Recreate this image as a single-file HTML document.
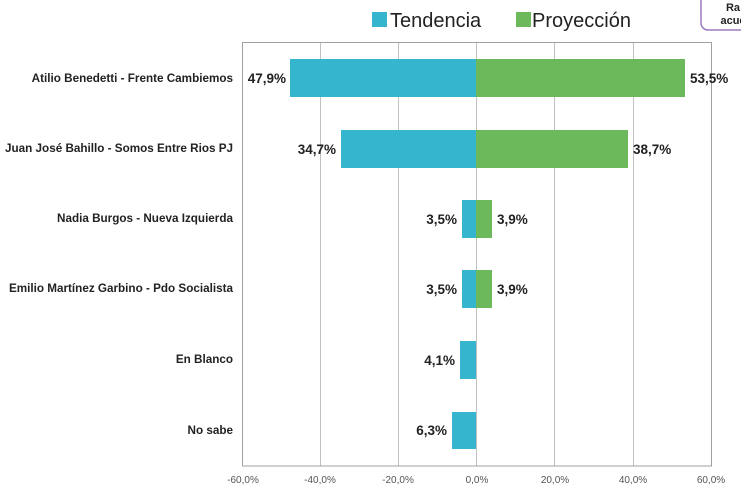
<!DOCTYPE html>
<html><head><meta charset="utf-8"><style>
body{margin:0;background:#fff;width:741px;height:494px;overflow:hidden;font-family:"Liberation Sans",sans-serif}
</style></head><body>
<svg width="741" height="494" xmlns="http://www.w3.org/2000/svg" font-family="Liberation Sans, sans-serif">
<rect x="701" y="-10" width="60" height="40" rx="7" fill="#fff" stroke="#9b7bc0" stroke-width="1.5"/>
<text x="733" y="11" font-size="11" font-weight="bold" fill="#222" text-anchor="middle">Ra</text>
<text x="733" y="24" font-size="11" font-weight="bold" fill="#222" text-anchor="middle">acue</text>
<rect x="372" y="12" width="15" height="15" fill="#35b5ce"/>
<text x="390" y="27" font-size="20" fill="#222">Tendencia</text>
<rect x="516" y="12" width="15" height="15" fill="#6cb95c"/>
<text x="532" y="27" font-size="20" fill="#222">Proyección</text>
<g stroke="#c0c0c0" stroke-width="1">
<line x1="320.5" y1="42" x2="320.5" y2="466"/>
<line x1="398.5" y1="42" x2="398.5" y2="466"/>
<line x1="476.5" y1="42" x2="476.5" y2="466"/>
<line x1="554.5" y1="42" x2="554.5" y2="466"/>
<line x1="633.5" y1="42" x2="633.5" y2="466"/>
</g>
<rect x="242.5" y="42.5" width="469" height="423.5" fill="none" stroke="#a0a0a0"/>
<g fill="#35b5ce">
<rect x="290" y="59" width="186" height="38"/>
<rect x="341" y="130" width="135" height="38"/>
<rect x="462" y="200" width="14" height="38"/>
<rect x="462" y="270" width="14" height="38"/>
<rect x="460" y="341" width="16" height="38"/>
<rect x="452" y="412" width="24" height="37"/>
</g>
<g fill="#6cb95c">
<rect x="476" y="59" width="209" height="38"/>
<rect x="476" y="130" width="152" height="38"/>
<rect x="476" y="200" width="16" height="38"/>
<rect x="476" y="270" width="16" height="38"/>
</g>
<g font-size="13.5" font-weight="bold" fill="#222">
<text x="286" y="83" text-anchor="end">47,9%</text>
<text x="690" y="83">53,5%</text>
<text x="336" y="154" text-anchor="end">34,7%</text>
<text x="633" y="154">38,7%</text>
<text x="457" y="224" text-anchor="end">3,5%</text>
<text x="497" y="224">3,9%</text>
<text x="457" y="294" text-anchor="end">3,5%</text>
<text x="497" y="294">3,9%</text>
<text x="455" y="365" text-anchor="end">4,1%</text>
<text x="447" y="435" text-anchor="end">6,3%</text>
</g>
<g font-size="11.7" font-weight="bold" fill="#222" text-anchor="end">
<text x="233" y="82">Atilio Benedetti - Frente Cambiemos</text>
<text x="233" y="152">Juan José Bahillo - Somos Entre Rios PJ</text>
<text x="233" y="222">Nadia Burgos - Nueva Izquierda</text>
<text x="233" y="292">Emilio Martínez Garbino - Pdo Socialista</text>
<text x="233" y="363">En Blanco</text>
<text x="233" y="434">No sabe</text>
</g>
<g font-size="10" fill="#555" text-anchor="middle">
<text x="243" y="483">-60,0%</text>
<text x="320" y="483">-40,0%</text>
<text x="398" y="483">-20,0%</text>
<text x="477" y="483">0,0%</text>
<text x="555" y="483">20,0%</text>
<text x="633" y="483">40,0%</text>
<text x="711" y="483">60,0%</text>
</g>
</svg>
</body></html>
